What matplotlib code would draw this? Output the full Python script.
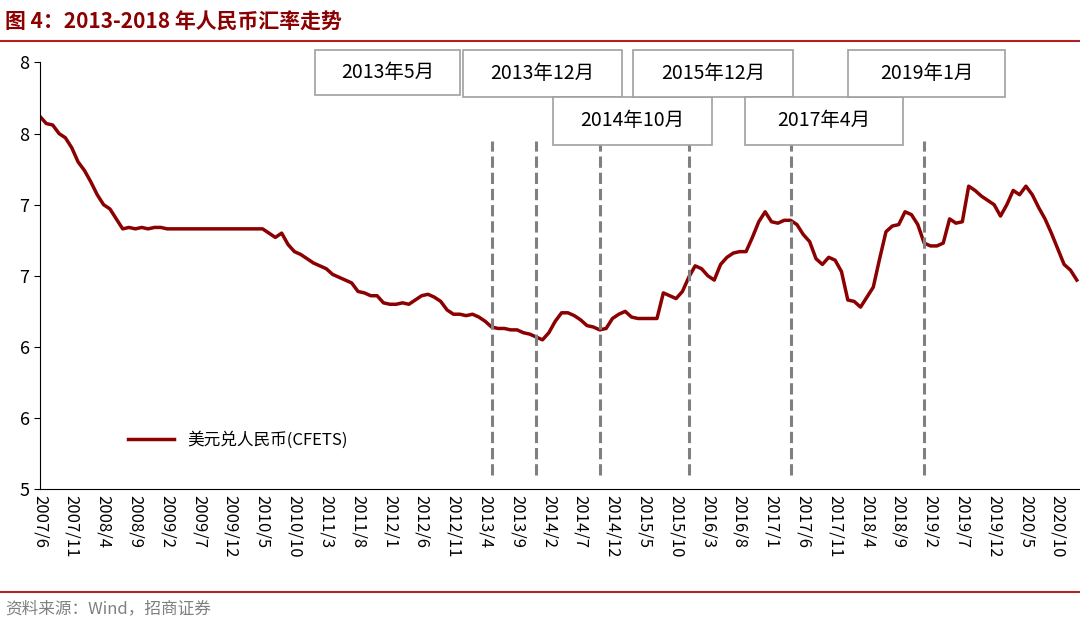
import matplotlib.pyplot as plt
from matplotlib.patches import Rectangle
from matplotlib.lines import Line2D
import math

plt.rcParams['font.family'] = ['Noto Sans CJK SC', 'DejaVu Sans']

# 月度数据 2007/6 - 2021/1
rate = [7.62, 7.57, 7.56, 7.50, 7.47, 7.40, 7.30,
        7.24, 7.16, 7.07, 7.00, 6.97, 6.90, 6.83, 6.84, 6.83, 6.84, 6.83, 6.84,
        6.84, 6.83, 6.83, 6.83, 6.83, 6.83, 6.83, 6.83, 6.83, 6.83, 6.83, 6.83,
        6.83, 6.83, 6.83, 6.83, 6.83, 6.80, 6.77, 6.80, 6.72, 6.67, 6.65, 6.62,
        6.59, 6.57, 6.55, 6.51, 6.49, 6.47, 6.45, 6.39, 6.38, 6.36, 6.36, 6.31,
        6.30, 6.30, 6.31, 6.30, 6.33, 6.36, 6.37, 6.35, 6.32, 6.26, 6.23, 6.23,
        6.22, 6.23, 6.21, 6.18, 6.14, 6.13, 6.13, 6.12, 6.12, 6.10, 6.09, 6.07,
        6.05, 6.10, 6.18, 6.24, 6.24, 6.22, 6.19, 6.15, 6.14, 6.12, 6.13, 6.20,
        6.23, 6.25, 6.21, 6.20, 6.20, 6.20, 6.20, 6.38, 6.36, 6.34, 6.39, 6.49,
        6.57, 6.55, 6.50, 6.47, 6.58, 6.63, 6.66, 6.67, 6.67, 6.77, 6.88, 6.95,
        6.88, 6.87, 6.89, 6.89, 6.86, 6.79, 6.74, 6.62, 6.58, 6.63, 6.61, 6.53,
        6.33, 6.32, 6.28, 6.35, 6.42, 6.62, 6.81, 6.85, 6.86, 6.95, 6.93, 6.86,
        6.73, 6.71, 6.71, 6.73, 6.90, 6.87, 6.88, 7.13, 7.10, 7.06, 7.03, 7.00,
        6.92, 7.00, 7.10, 7.07, 7.13, 7.07, 6.98, 6.90, 6.80, 6.69, 6.58, 6.54,
        6.47]
months = [f"{2007 + (5 + i) // 12}/{(5 + i) % 12 + 1}" for i in range(len(rate))]
events = ['2013/5', '2013/12', '2014/10', '2015/12', '2017/4', '2019/1']
event_labels = ['2013年5月', '2013年12月', '2014年10月', '2015年12月', '2017年4月', '2019年1月']
yticks = [5.0, 5.5, 6.0, 6.5, 7.0, 7.5, 8.0]

red = '#8B0000'
fig = plt.figure(figsize=(10.8, 6.24), dpi=100)
ax = fig.add_axes([0.037, 0.216, 0.963, 0.684])
x = list(range(len(rate)))
ax.plot(x, rate, color=red, lw=2.5, label='美元兑人民币(CFETS)')
for e in events:
    ax.plot([months.index(e)] * 2, [5.1, 7.45], color='#808080', ls='--', lw=2.2)

ax.set_xlim(0, len(rate) - 0.5)
ax.set_ylim(5, 8)
ax.set_yticks(yticks)
ax.set_yticklabels([str(math.floor(v + 0.5)) for v in yticks], fontsize=13)
ax.set_xticks(x[::5])
ax.set_xticklabels(months[::5], rotation=270, fontsize=12)
ax.tick_params(axis='x', length=0, pad=4)
ax.tick_params(axis='y', length=4, direction='out')
for s in ['top', 'right']:
    ax.spines[s].set_visible(False)
ax.legend(loc='lower left', bbox_to_anchor=(0.07, 0.06), frameon=False, fontsize=12,
          handlelength=2.8)

# 标注框 (像素位置)
boxes = [(315, 50, 145, 45), (463, 50, 159, 47), (553, 97, 159, 48),
         (633, 50, 160, 47), (745, 97, 158, 48), (848, 50, 157, 47)]
W, H = 1080, 624
for (bx, by, bw, bh), lab in zip(boxes, event_labels):
    fig.patches.append(Rectangle((bx / W, 1 - (by + bh) / H), bw / W, bh / H,
                                 transform=fig.transFigure, fill=True, fc='white',
                                 ec='#A0A0A0', lw=1.2))
    fig.text((bx + bw / 2) / W, 1 - (by + bh / 2) / H, lab, ha='center', va='center',
             fontsize=14)

# 标题与来源
fig.text(0.005, 0.965, '图 4：2013-2018 年人民币汇率走势', fontsize=15, fontweight='bold',
         color=red, va='center')
fig.add_artist(Line2D([0, 1], [0.935, 0.935], color='#B22222', lw=1.5))
fig.add_artist(Line2D([0, 1], [0.052, 0.052], color='#B22222', lw=1.5))
fig.text(0.005, 0.025, '资料来源：Wind，招商证券', fontsize=12, color='#808080', va='center')

fig.savefig('out.png', dpi=100)
